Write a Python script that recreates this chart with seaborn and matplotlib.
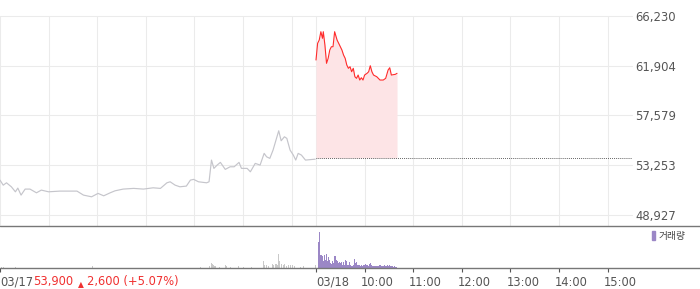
import matplotlib
matplotlib.use("Agg")
import matplotlib.pyplot as plt
import matplotlib.transforms as mtrans
from matplotlib.lines import Line2D
from matplotlib.patches import Patch
import seaborn as sns
import pandas as pd

# ---------------- data ----------------
# minutes from 03/17 09:00 (03/18 09:00 = 390), one session = 390 minutes
prev_minutes = [0, 4, 8, 14, 19, 22, 26, 31, 37, 45, 51, 60, 74, 95, 103, 113, 121, 128,
                136, 142, 152, 165, 177, 189, 198, 206, 210, 216, 222, 230, 235, 239, 245,
                255, 258, 261, 264, 268, 272, 278, 284, 289, 295, 298, 305, 309, 315, 321,
                326, 329, 333, 337, 344, 347, 351, 354, 358, 362, 365, 368, 372, 377, 389]
prev_price = [51960, 51520, 51727, 51380, 50944, 51266, 50657, 51180, 51180, 50857, 51092,
              50944, 51005, 51005, 50657, 50509, 50805, 50596, 50857, 51031, 51180, 51240,
              51180, 51292, 51240, 51727, 51814, 51527, 51380, 51440, 51962, 52023, 51814,
              51727, 51814, 53702, 52980, 53267, 53502, 52893, 53120, 53120, 53502, 52980,
              52980, 52684, 53415, 53267, 54285, 53989, 53850, 54572, 56251, 55381, 55729,
              55590, 54572, 54137, 53702, 54285, 54137, 53702, 53780]

today_minutes = [390, 392, 394, 396, 398, 399, 401, 403, 405, 407, 409, 411, 413, 416, 418,
                 422, 424, 426, 428, 430, 432, 434, 436, 438, 440, 442, 444, 446, 448, 450,
                 453, 455, 457, 459, 461, 465, 469, 473, 476, 479, 481, 483, 488, 490]
today_price = [62402, 63855, 64142, 64864, 64290, 64864, 63707, 62115, 62550, 63272, 63559,
               63559, 64864, 64142, 63855, 63272, 62837, 62550, 61967, 61680, 61819, 61384,
               61680, 60949, 60810, 61097, 60662, 60862, 60662, 61097, 61245, 61384, 61906,
               61384, 61097, 60949, 60662, 60662, 60810, 61532, 61732, 61097, 61160, 61245]

prev_close = 53900

prev_vol_minutes = [1, 4, 19, 114, 247, 258, 260, 262, 263, 264, 265, 270, 278, 279, 284,
                    294, 300, 310, 325, 326, 328, 331, 336, 337, 340, 342, 343, 344, 347,
                    349, 351, 353, 356, 358, 360, 363, 370, 374, 389]
prev_vol = [10, 7, 7, 20, 7, 17, 50, 40, 33, 17, 17, 10, 33, 17, 10, 17, 10, 13, 73, 27,
            27, 17, 40, 27, 40, 33, 140, 73, 40, 27, 40, 17, 33, 27, 33, 17, 10, 17, 33]

today_vol_minutes = [392, 394, 395, 396, 397, 399, 400, 401, 402, 404, 405, 406, 407, 409,
                     410, 411, 412, 413, 415, 416, 417, 418, 420, 421, 422, 423, 425, 426,
                     427, 428, 430, 431, 432, 433, 434, 436, 437, 438, 439, 441, 442, 443,
                     444, 446, 447, 448, 449, 450, 452, 453, 454, 455, 457, 458, 459, 460,
                     462, 463, 464, 465, 467, 468, 469, 470, 471, 473, 474, 475, 476, 478,
                     479, 480, 481, 483, 484, 485, 486, 488, 489]
today_vol = [260, 360, 133, 127, 117, 73, 133, 83, 140, 73, 107, 83, 50, 40, 67, 50, 117,
             117, 83, 67, 50, 60, 50, 60, 33, 60, 27, 83, 73, 33, 27, 60, 27, 17, 17, 27, 87,
             50, 57, 33, 27, 27, 17, 27, 17, 33, 27, 40, 33, 27, 17, 40, 50, 27, 17, 17, 17,
             17, 17, 17, 17, 27, 33, 17, 17, 17, 27, 17, 17, 27, 17, 27, 17, 17, 17, 10, 17,
             10, 7]

y_ticks = [48927, 53253, 57579, 61904, 66230]
grid_minutes = [0, 60, 120, 180, 240, 300, 360, 390, 450, 510, 570, 630, 690, 750]
x_tick_minutes = [0, 390, 450, 510, 570, 630, 690, 750]
x_tick_labels = ["03/17", "03/18", "10:00", "11:00", "12:00", "13:00", "14:00", "15:00"]
close_text = "53,900"
change_text = "2,600 (+5.07%)"
legend_label = "거래량"
total_minutes = 780

# ---------------- style ----------------
sns.set_theme(style="white")
plt.rcParams["font.family"] = ["DejaVu Sans", "Noto Sans CJK KR"]

RED = "#ff2b2b"
TXT_RED = "#f03030"
FILL = "#fde4e6"
GREY_LINE = "#c5c5cb"
PURPLE = "#9b87c6"
GREY_BAR = "#c9c9c9"
GRID = "#ebebeb"
TXT = "#555555"
SEP = "#777777"

W, H = 700, 289
fig = plt.figure(figsize=(W / 100, H / 100), dpi=100)

# pixel geometry
plot_right = 632
grid_top_px, grid_bot_px = 16, 215
main_top_px, main_bot_px = 16, 225.5
vol_top_px, vol_bot_px = 225.5, 268

val_per_px = (y_ticks[-1] - y_ticks[0]) / (grid_bot_px - grid_top_px)

ax = fig.add_axes([0, 1 - main_bot_px / H, plot_right / W, (main_bot_px - main_top_px) / H])
axv = fig.add_axes([0, 1 - vol_bot_px / H, plot_right / W, (vol_bot_px - vol_top_px) / H])

prev_df = pd.DataFrame({"minute": prev_minutes, "price": prev_price})
today_df = pd.DataFrame({"minute": today_minutes, "price": today_price})

ax.fill_between(today_df["minute"], today_df["price"], prev_close, color=FILL, lw=0, zorder=1)
sns.lineplot(data=prev_df, x="minute", y="price", ax=ax, color=GREY_LINE, lw=0.85, zorder=3)
sns.lineplot(data=today_df, x="minute", y="price", ax=ax, color=RED, lw=0.8, zorder=4)
ax.hlines(prev_close, today_minutes[0], total_minutes, colors="#444444",
          linestyles=(0, (0.8, 1.2)), lw=0.7, zorder=5)

ax.set_xlim(0, total_minutes)
ax.set_ylim(y_ticks[0] - (main_bot_px - grid_bot_px) * val_per_px,
            y_ticks[-1] + (grid_top_px - main_top_px) * val_per_px)
ax.set_yticks(y_ticks)
ax.set_yticklabels([f"{v:,}" for v in y_ticks])
ax.set_xticks(grid_minutes)
ax.set_xticklabels([])
ax.yaxis.tick_right()
ax.tick_params(axis="y", length=0, pad=2.5, labelsize=8.4, labelcolor=TXT)
ax.tick_params(axis="x", length=0)
ax.grid(True, color=GRID, lw=0.75, zorder=0)
for gl in ax.get_ygridlines():
    gl.set_clip_on(False)
ax.set_axisbelow(True)
ax.set_xlabel("")
ax.set_ylabel("")
for s in ax.spines.values():
    s.set_visible(False)
ax.patch.set_alpha(0)

# volume
axv.bar(prev_vol_minutes, prev_vol, width=1.25, color=GREY_BAR, lw=0, align="edge")
axv.bar(today_vol_minutes, today_vol, width=1.25, color=PURPLE, lw=0, align="edge")
axv.set_xlim(0, total_minutes)
axv.set_ylim(0, 425)
axv.set_yticks([])
axv.set_xticks(x_tick_minutes)
axv.set_xticklabels([])
axv.tick_params(axis="x", direction="out", length=3.2, width=0.8, color="#555555", bottom=True)
axv.grid(False)
for s in axv.spines.values():
    s.set_visible(False)
axv.patch.set_alpha(0)

# separator lines across the full width
for ypx in (main_bot_px, vol_bot_px):
    fig.add_artist(Line2D([0, 1], [1 - ypx / H, 1 - ypx / H], transform=fig.transFigure,
                          color=SEP, lw=1.0))

# tick labels
blend = mtrans.blended_transform_factory(axv.transData, axv.transAxes)
label_y = -(282 - vol_bot_px) / (vol_bot_px - vol_top_px)
first_text = None
for m, lab in zip(x_tick_minutes, x_tick_labels):
    dx = 0 if "/" in lab else -4
    tr = blend + mtrans.ScaledTranslation(dx / 100, 0, fig.dpi_scale_trans)
    t = axv.text(m, label_y, lab, transform=tr, ha="left", va="center",
                 fontsize=8.3, color=TXT)
    if first_text is None:
        first_text = t

t2 = axv.annotate(close_text, xy=(1, 0), xycoords=first_text, xytext=(0, 0),
                  textcoords="offset points", ha="left", va="bottom",
                  fontsize=8.3, color=TXT_RED)
t3 = axv.annotate("▲", xy=(1, 0.3), xycoords=t2, xytext=(3.5, 0),
                  textcoords="offset points", ha="left", va="center",
                  fontsize=5.5, color=TXT_RED)
axv.annotate(change_text, xy=(1, 0), xycoords=t2, xytext=(10, 0),
             textcoords="offset points", ha="left", va="bottom",
             fontsize=8.3, color=TXT_RED)

# legend
leg = fig.legend(handles=[Patch(color=PURPLE, label=legend_label)],
                 loc="upper left", bbox_to_anchor=(652 / W, 1 - 231 / H),
                 bbox_transform=fig.transFigure, frameon=False, fontsize=7.0,
                 handlelength=0.3, handleheight=1.0, handletextpad=0.35,
                 borderpad=0, borderaxespad=0, labelcolor="#444444")

fig.savefig("out.png", dpi=100)
